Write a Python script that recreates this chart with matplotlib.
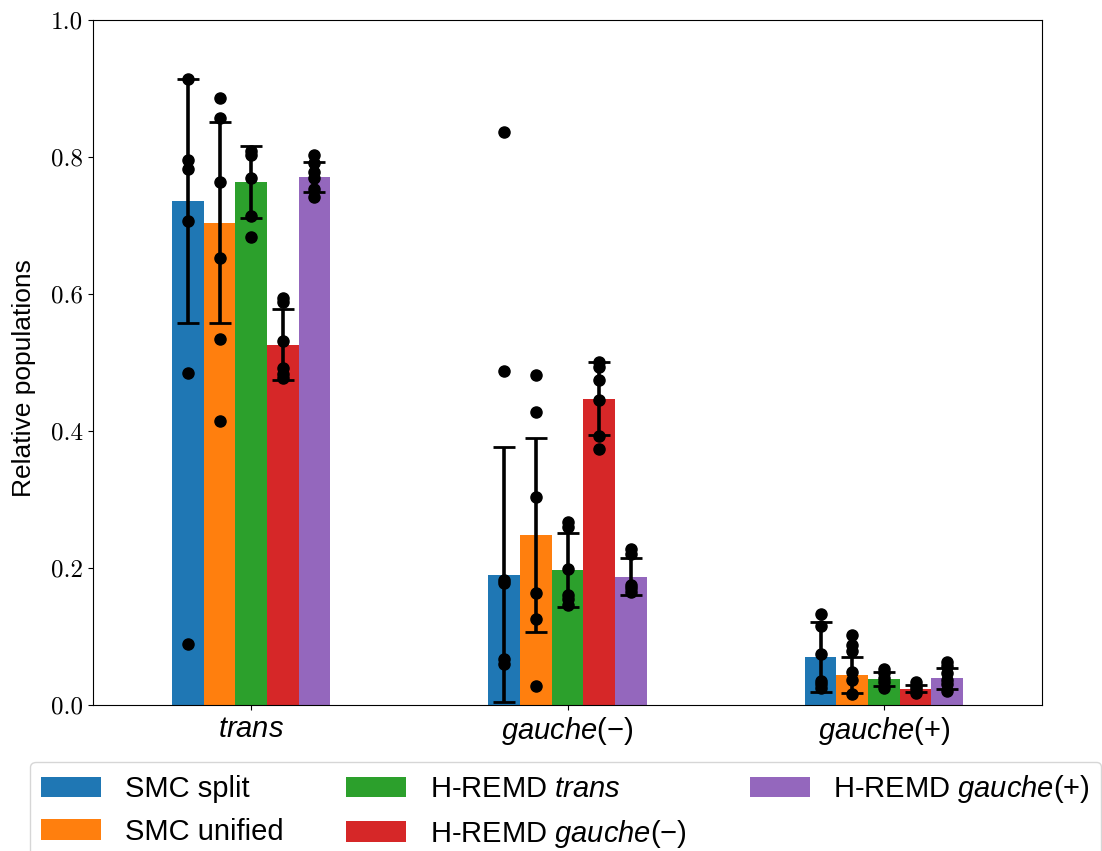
import numpy as np
import matplotlib
matplotlib.use("Agg")
import matplotlib.pyplot as plt

plt.rcParams["font.family"] = ["Liberation Sans", "DejaVu Sans"]
plt.rcParams["mathtext.fontset"] = "custom"
plt.rcParams["mathtext.rm"] = "Liberation Sans"
plt.rcParams["mathtext.it"] = "Liberation Sans:italic"

# ── data ──────────────────────────────────────────────────────────────────────
STATES = [r"$\mathit{trans}$", r"$\mathit{gauche}$(−)", r"$\mathit{gauche}$(+)"]
METHODS = ["SMC split", "SMC unified", r"H-REMD $\mathit{trans}$",
           r"H-REMD $\mathit{gauche}$(−)", r"H-REMD $\mathit{gauche}$(+)"]
COLORS = ["#1f77b4", "#ff7f0e", "#2ca02c", "#d62728", "#9467bd"]

# mean population per method, one value per state
smc_split_mean   = [0.736, 0.190, 0.070]
smc_unified_mean = [0.704, 0.248, 0.044]
hremd_t_mean     = [0.763, 0.197, 0.038]
hremd_gm_mean    = [0.526, 0.447, 0.024]
hremd_gp_mean    = [0.771, 0.187, 0.039]

# standard deviation across runs
smc_split_std   = [0.178, 0.186, 0.0515]
smc_unified_std = [0.147, 0.1415, 0.0265]
hremd_t_std     = [0.0525, 0.0535, 0.010]
hremd_gm_std    = [0.052, 0.053, 0.0055]
hremd_gp_std    = [0.0215, 0.027, 0.015]

# individual runs
smc_split_runs = [
    [0.914, 0.796, 0.783, 0.706, 0.484, 0.089],
    [0.836, 0.487, 0.182, 0.178, 0.067, 0.060],
    [0.133, 0.115, 0.074, 0.035, 0.030, 0.025],
]
smc_unified_runs = [
    [0.886, 0.857, 0.764, 0.652, 0.534, 0.415],
    [0.482, 0.427, 0.303, 0.164, 0.126, 0.028],
    [0.102, 0.087, 0.079, 0.048, 0.037, 0.016],
]
hremd_t_runs = [
    [0.809, 0.803, 0.770, 0.714, 0.683],
    [0.267, 0.260, 0.199, 0.160, 0.154, 0.146],
    [0.052, 0.046, 0.040, 0.033, 0.025],
]
hremd_gm_runs = [
    [0.594, 0.588, 0.532, 0.492, 0.483, 0.477],
    [0.501, 0.494, 0.475, 0.445, 0.393, 0.374],
    [0.033, 0.028, 0.023, 0.017],
]
hremd_gp_runs = [
    [0.803, 0.791, 0.778, 0.769, 0.754, 0.742],
    [0.227, 0.221, 0.175, 0.171, 0.165],
    [0.063, 0.057, 0.047, 0.037, 0.030, 0.020],
]

means = [smc_split_mean, smc_unified_mean, hremd_t_mean, hremd_gm_mean, hremd_gp_mean]
stds = [smc_split_std, smc_unified_std, hremd_t_std, hremd_gm_std, hremd_gp_std]
runs = [smc_split_runs, smc_unified_runs, hremd_t_runs, hremd_gm_runs, hremd_gp_runs]

# ── plot ──────────────────────────────────────────────────────────────────────
fig = plt.figure(figsize=(11.02, 8.51), dpi=100)
ax = fig.add_axes([0.0844, 0.1716, 0.8612, 0.8049])

x = np.arange(len(STATES))
width = 0.1
offsets = (np.arange(len(METHODS)) - 2) * width

for i, name in enumerate(METHODS):
    xs = x + offsets[i]
    ax.bar(xs, means[i], width, color=COLORS[i], label=name)
    ax.errorbar(xs, means[i], yerr=stds[i], fmt="none", ecolor="black",
                elinewidth=2.6, capsize=8, capthick=2)
    for j in range(len(STATES)):
        ax.plot([xs[j]] * len(runs[i][j]), runs[i][j], "o", color="black",
                markersize=8, linestyle="none")

ax.set_xlim(-0.5, 2.5)
ax.set_ylim(0, 1.0)
ax.set_xticks(x, labels=STATES, fontsize=21)
yt = np.arange(0, 1.01, 0.2)
ax.set_yticks(yt, labels=[f"{t:.1f}" for t in yt], fontfamily="cmr10", fontsize=18)
ax.set_ylabel("Relative populations", fontsize=19)
ax.yaxis.set_label_coords(-0.06, 0.477)

fig.legend(loc="upper left", bbox_to_anchor=(0.027, 0.105),
           bbox_transform=fig.transFigure, borderaxespad=0, ncol=3,
           fontsize=21, handlelength=2.05, columnspacing=2.17)

plt.savefig("out.png", dpi=100)
